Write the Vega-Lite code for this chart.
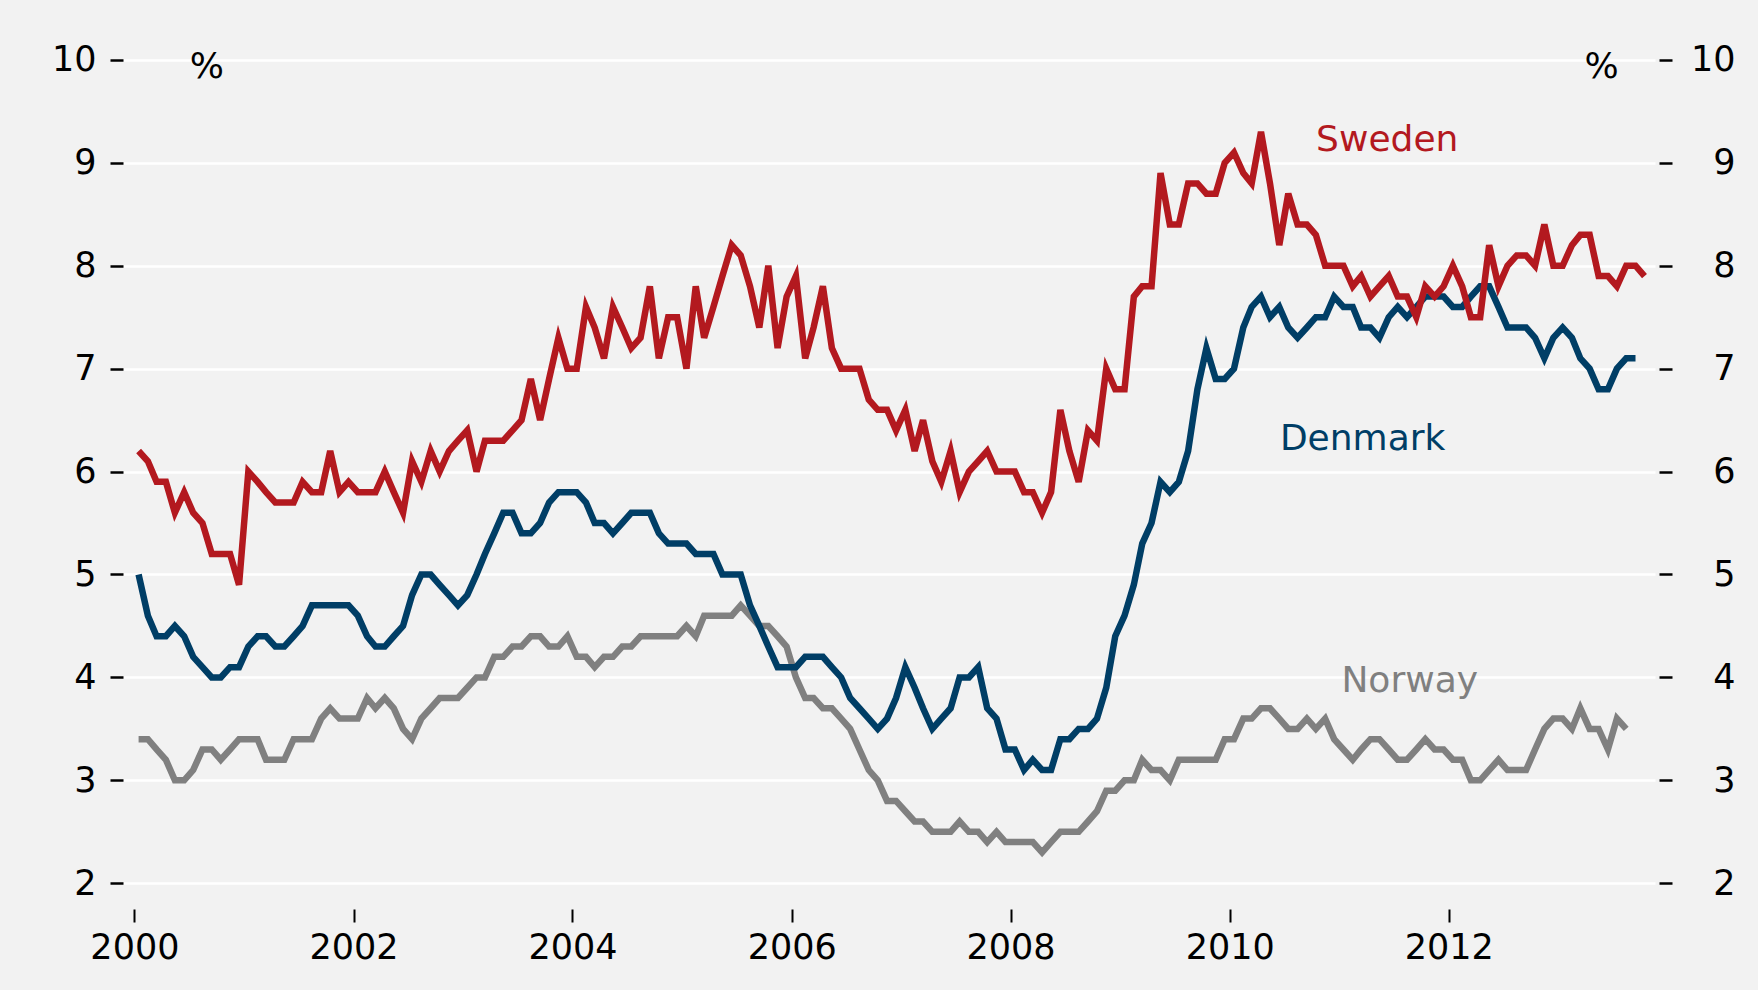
{
  "$schema": "https://vega.github.io/schema/vega-lite/v6.json",
  "width": 1532,
  "height": 880,
  "autosize": {"type": "none"},
  "padding": {"left": 123, "top": 29, "right": 103, "bottom": 81},
  "background": "#f2f2f2",
  "config": {
    "view": {"stroke": null},
    "font": "DejaVu Sans",
    "axis": {"labelFont": "DejaVu Sans", "labelColor": "#000000", "labelFontSize": 35, "labelFontWeight": "normal"}
  },
  "datasets": {
    "rates": [
      {"d":"2000-01-15","Sweden":6.2,"Denmark":5.0,"Norway":3.4},
      {"d":"2000-02-15","Sweden":6.1,"Denmark":4.6,"Norway":3.4},
      {"d":"2000-03-15","Sweden":5.9,"Denmark":4.4,"Norway":3.3},
      {"d":"2000-04-15","Sweden":5.9,"Denmark":4.4,"Norway":3.2},
      {"d":"2000-05-15","Sweden":5.6,"Denmark":4.5,"Norway":3.0},
      {"d":"2000-06-15","Sweden":5.8,"Denmark":4.4,"Norway":3.0},
      {"d":"2000-07-15","Sweden":5.6,"Denmark":4.2,"Norway":3.1},
      {"d":"2000-08-15","Sweden":5.5,"Denmark":4.1,"Norway":3.3},
      {"d":"2000-09-15","Sweden":5.2,"Denmark":4.0,"Norway":3.3},
      {"d":"2000-10-15","Sweden":5.2,"Denmark":4.0,"Norway":3.2},
      {"d":"2000-11-15","Sweden":5.2,"Denmark":4.1,"Norway":3.3},
      {"d":"2000-12-15","Sweden":4.9,"Denmark":4.1,"Norway":3.4},
      {"d":"2001-01-15","Sweden":6.0,"Denmark":4.3,"Norway":3.4},
      {"d":"2001-02-15","Sweden":5.9,"Denmark":4.4,"Norway":3.4},
      {"d":"2001-03-15","Sweden":5.8,"Denmark":4.4,"Norway":3.2},
      {"d":"2001-04-15","Sweden":5.7,"Denmark":4.3,"Norway":3.2},
      {"d":"2001-05-15","Sweden":5.7,"Denmark":4.3,"Norway":3.2},
      {"d":"2001-06-15","Sweden":5.7,"Denmark":4.4,"Norway":3.4},
      {"d":"2001-07-15","Sweden":5.9,"Denmark":4.5,"Norway":3.4},
      {"d":"2001-08-15","Sweden":5.8,"Denmark":4.7,"Norway":3.4},
      {"d":"2001-09-15","Sweden":5.8,"Denmark":4.7,"Norway":3.6},
      {"d":"2001-10-15","Sweden":6.2,"Denmark":4.7,"Norway":3.7},
      {"d":"2001-11-15","Sweden":5.8,"Denmark":4.7,"Norway":3.6},
      {"d":"2001-12-15","Sweden":5.9,"Denmark":4.7,"Norway":3.6},
      {"d":"2002-01-15","Sweden":5.8,"Denmark":4.6,"Norway":3.6},
      {"d":"2002-02-15","Sweden":5.8,"Denmark":4.4,"Norway":3.8},
      {"d":"2002-03-15","Sweden":5.8,"Denmark":4.3,"Norway":3.7},
      {"d":"2002-04-15","Sweden":6.0,"Denmark":4.3,"Norway":3.8},
      {"d":"2002-05-15","Sweden":5.8,"Denmark":4.4,"Norway":3.7},
      {"d":"2002-06-15","Sweden":5.6,"Denmark":4.5,"Norway":3.5},
      {"d":"2002-07-15","Sweden":6.1,"Denmark":4.8,"Norway":3.4},
      {"d":"2002-08-15","Sweden":5.9,"Denmark":5.0,"Norway":3.6},
      {"d":"2002-09-15","Sweden":6.2,"Denmark":5.0,"Norway":3.7},
      {"d":"2002-10-15","Sweden":6.0,"Denmark":4.9,"Norway":3.8},
      {"d":"2002-11-15","Sweden":6.2,"Denmark":4.8,"Norway":3.8},
      {"d":"2002-12-15","Sweden":6.3,"Denmark":4.7,"Norway":3.8},
      {"d":"2003-01-15","Sweden":6.4,"Denmark":4.8,"Norway":3.9},
      {"d":"2003-02-15","Sweden":6.0,"Denmark":5.0,"Norway":4.0},
      {"d":"2003-03-15","Sweden":6.3,"Denmark":5.2,"Norway":4.0},
      {"d":"2003-04-15","Sweden":6.3,"Denmark":5.4,"Norway":4.2},
      {"d":"2003-05-15","Sweden":6.3,"Denmark":5.6,"Norway":4.2},
      {"d":"2003-06-15","Sweden":6.4,"Denmark":5.6,"Norway":4.3},
      {"d":"2003-07-15","Sweden":6.5,"Denmark":5.4,"Norway":4.3},
      {"d":"2003-08-15","Sweden":6.9,"Denmark":5.4,"Norway":4.4},
      {"d":"2003-09-15","Sweden":6.5,"Denmark":5.5,"Norway":4.4},
      {"d":"2003-10-15","Sweden":6.9,"Denmark":5.7,"Norway":4.3},
      {"d":"2003-11-15","Sweden":7.3,"Denmark":5.8,"Norway":4.3},
      {"d":"2003-12-15","Sweden":7.0,"Denmark":5.8,"Norway":4.4},
      {"d":"2004-01-15","Sweden":7.0,"Denmark":5.8,"Norway":4.2},
      {"d":"2004-02-15","Sweden":7.6,"Denmark":5.7,"Norway":4.2},
      {"d":"2004-03-15","Sweden":7.4,"Denmark":5.5,"Norway":4.1},
      {"d":"2004-04-15","Sweden":7.1,"Denmark":5.5,"Norway":4.2},
      {"d":"2004-05-15","Sweden":7.6,"Denmark":5.4,"Norway":4.2},
      {"d":"2004-06-15","Sweden":7.4,"Denmark":5.5,"Norway":4.3},
      {"d":"2004-07-15","Sweden":7.2,"Denmark":5.6,"Norway":4.3},
      {"d":"2004-08-15","Sweden":7.3,"Denmark":5.6,"Norway":4.4},
      {"d":"2004-09-15","Sweden":7.8,"Denmark":5.6,"Norway":4.4},
      {"d":"2004-10-15","Sweden":7.1,"Denmark":5.4,"Norway":4.4},
      {"d":"2004-11-15","Sweden":7.5,"Denmark":5.3,"Norway":4.4},
      {"d":"2004-12-15","Sweden":7.5,"Denmark":5.3,"Norway":4.4},
      {"d":"2005-01-15","Sweden":7.0,"Denmark":5.3,"Norway":4.5},
      {"d":"2005-02-15","Sweden":7.8,"Denmark":5.2,"Norway":4.4},
      {"d":"2005-03-15","Sweden":7.3,"Denmark":5.2,"Norway":4.6},
      {"d":"2005-04-15","Sweden":7.6,"Denmark":5.2,"Norway":4.6},
      {"d":"2005-05-15","Sweden":7.9,"Denmark":5.0,"Norway":4.6},
      {"d":"2005-06-15","Sweden":8.2,"Denmark":5.0,"Norway":4.6},
      {"d":"2005-07-15","Sweden":8.1,"Denmark":5.0,"Norway":4.7},
      {"d":"2005-08-15","Sweden":7.8,"Denmark":4.7,"Norway":4.6},
      {"d":"2005-09-15","Sweden":7.4,"Denmark":4.5,"Norway":4.5},
      {"d":"2005-10-15","Sweden":8.0,"Denmark":4.3,"Norway":4.5},
      {"d":"2005-11-15","Sweden":7.2,"Denmark":4.1,"Norway":4.4},
      {"d":"2005-12-15","Sweden":7.7,"Denmark":4.1,"Norway":4.3},
      {"d":"2006-01-15","Sweden":7.9,"Denmark":4.1,"Norway":4.0},
      {"d":"2006-02-15","Sweden":7.1,"Denmark":4.2,"Norway":3.8},
      {"d":"2006-03-15","Sweden":7.4,"Denmark":4.2,"Norway":3.8},
      {"d":"2006-04-15","Sweden":7.8,"Denmark":4.2,"Norway":3.7},
      {"d":"2006-05-15","Sweden":7.2,"Denmark":4.1,"Norway":3.7},
      {"d":"2006-06-15","Sweden":7.0,"Denmark":4.0,"Norway":3.6},
      {"d":"2006-07-15","Sweden":7.0,"Denmark":3.8,"Norway":3.5},
      {"d":"2006-08-15","Sweden":7.0,"Denmark":3.7,"Norway":3.3},
      {"d":"2006-09-15","Sweden":6.7,"Denmark":3.6,"Norway":3.1},
      {"d":"2006-10-15","Sweden":6.6,"Denmark":3.5,"Norway":3.0},
      {"d":"2006-11-15","Sweden":6.6,"Denmark":3.6,"Norway":2.8},
      {"d":"2006-12-15","Sweden":6.4,"Denmark":3.8,"Norway":2.8},
      {"d":"2007-01-15","Sweden":6.6,"Denmark":4.1,"Norway":2.7},
      {"d":"2007-02-15","Sweden":6.2,"Denmark":3.9,"Norway":2.6},
      {"d":"2007-03-15","Sweden":6.5,"Denmark":3.7,"Norway":2.6},
      {"d":"2007-04-15","Sweden":6.1,"Denmark":3.5,"Norway":2.5},
      {"d":"2007-05-15","Sweden":5.9,"Denmark":3.6,"Norway":2.5},
      {"d":"2007-06-15","Sweden":6.2,"Denmark":3.7,"Norway":2.5},
      {"d":"2007-07-15","Sweden":5.8,"Denmark":4.0,"Norway":2.6},
      {"d":"2007-08-15","Sweden":6.0,"Denmark":4.0,"Norway":2.5},
      {"d":"2007-09-15","Sweden":6.1,"Denmark":4.1,"Norway":2.5},
      {"d":"2007-10-15","Sweden":6.2,"Denmark":3.7,"Norway":2.4},
      {"d":"2007-11-15","Sweden":6.0,"Denmark":3.6,"Norway":2.5},
      {"d":"2007-12-15","Sweden":6.0,"Denmark":3.3,"Norway":2.4},
      {"d":"2008-01-15","Sweden":6.0,"Denmark":3.3,"Norway":2.4},
      {"d":"2008-02-15","Sweden":5.8,"Denmark":3.1,"Norway":2.4},
      {"d":"2008-03-15","Sweden":5.8,"Denmark":3.2,"Norway":2.4},
      {"d":"2008-04-15","Sweden":5.6,"Denmark":3.1,"Norway":2.3},
      {"d":"2008-05-15","Sweden":5.8,"Denmark":3.1,"Norway":2.4},
      {"d":"2008-06-15","Sweden":6.6,"Denmark":3.4,"Norway":2.5},
      {"d":"2008-07-15","Sweden":6.2,"Denmark":3.4,"Norway":2.5},
      {"d":"2008-08-15","Sweden":5.9,"Denmark":3.5,"Norway":2.5},
      {"d":"2008-09-15","Sweden":6.4,"Denmark":3.5,"Norway":2.6},
      {"d":"2008-10-15","Sweden":6.3,"Denmark":3.6,"Norway":2.7},
      {"d":"2008-11-15","Sweden":7.0,"Denmark":3.9,"Norway":2.9},
      {"d":"2008-12-15","Sweden":6.8,"Denmark":4.4,"Norway":2.9},
      {"d":"2009-01-15","Sweden":6.8,"Denmark":4.6,"Norway":3.0},
      {"d":"2009-02-15","Sweden":7.7,"Denmark":4.9,"Norway":3.0},
      {"d":"2009-03-15","Sweden":7.8,"Denmark":5.3,"Norway":3.2},
      {"d":"2009-04-15","Sweden":7.8,"Denmark":5.5,"Norway":3.1},
      {"d":"2009-05-15","Sweden":8.9,"Denmark":5.9,"Norway":3.1},
      {"d":"2009-06-15","Sweden":8.4,"Denmark":5.8,"Norway":3.0},
      {"d":"2009-07-15","Sweden":8.4,"Denmark":5.9,"Norway":3.2},
      {"d":"2009-08-15","Sweden":8.8,"Denmark":6.2,"Norway":3.2},
      {"d":"2009-09-15","Sweden":8.8,"Denmark":6.8,"Norway":3.2},
      {"d":"2009-10-15","Sweden":8.7,"Denmark":7.2,"Norway":3.2},
      {"d":"2009-11-15","Sweden":8.7,"Denmark":6.9,"Norway":3.2},
      {"d":"2009-12-15","Sweden":9.0,"Denmark":6.9,"Norway":3.4},
      {"d":"2010-01-15","Sweden":9.1,"Denmark":7.0,"Norway":3.4},
      {"d":"2010-02-15","Sweden":8.9,"Denmark":7.4,"Norway":3.6},
      {"d":"2010-03-15","Sweden":8.8,"Denmark":7.6,"Norway":3.6},
      {"d":"2010-04-15","Sweden":9.3,"Denmark":7.7,"Norway":3.7},
      {"d":"2010-05-15","Sweden":8.8,"Denmark":7.5,"Norway":3.7},
      {"d":"2010-06-15","Sweden":8.2,"Denmark":7.6,"Norway":3.6},
      {"d":"2010-07-15","Sweden":8.7,"Denmark":7.4,"Norway":3.5},
      {"d":"2010-08-15","Sweden":8.4,"Denmark":7.3,"Norway":3.5},
      {"d":"2010-09-15","Sweden":8.4,"Denmark":7.4,"Norway":3.6},
      {"d":"2010-10-15","Sweden":8.3,"Denmark":7.5,"Norway":3.5},
      {"d":"2010-11-15","Sweden":8.0,"Denmark":7.5,"Norway":3.6},
      {"d":"2010-12-15","Sweden":8.0,"Denmark":7.7,"Norway":3.4},
      {"d":"2011-01-15","Sweden":8.0,"Denmark":7.6,"Norway":3.3},
      {"d":"2011-02-15","Sweden":7.8,"Denmark":7.6,"Norway":3.2},
      {"d":"2011-03-15","Sweden":7.9,"Denmark":7.4,"Norway":3.3},
      {"d":"2011-04-15","Sweden":7.7,"Denmark":7.4,"Norway":3.4},
      {"d":"2011-05-15","Sweden":7.8,"Denmark":7.3,"Norway":3.4},
      {"d":"2011-06-15","Sweden":7.9,"Denmark":7.5,"Norway":3.3},
      {"d":"2011-07-15","Sweden":7.7,"Denmark":7.6,"Norway":3.2},
      {"d":"2011-08-15","Sweden":7.7,"Denmark":7.5,"Norway":3.2},
      {"d":"2011-09-15","Sweden":7.5,"Denmark":7.6,"Norway":3.3},
      {"d":"2011-10-15","Sweden":7.8,"Denmark":7.7,"Norway":3.4},
      {"d":"2011-11-15","Sweden":7.7,"Denmark":7.7,"Norway":3.3},
      {"d":"2011-12-15","Sweden":7.8,"Denmark":7.7,"Norway":3.3},
      {"d":"2012-01-15","Sweden":8.0,"Denmark":7.6,"Norway":3.2},
      {"d":"2012-02-15","Sweden":7.8,"Denmark":7.6,"Norway":3.2},
      {"d":"2012-03-15","Sweden":7.5,"Denmark":7.7,"Norway":3.0},
      {"d":"2012-04-15","Sweden":7.5,"Denmark":7.8,"Norway":3.0},
      {"d":"2012-05-15","Sweden":8.2,"Denmark":7.8,"Norway":3.1},
      {"d":"2012-06-15","Sweden":7.8,"Denmark":7.6,"Norway":3.2},
      {"d":"2012-07-15","Sweden":8.0,"Denmark":7.4,"Norway":3.1},
      {"d":"2012-08-15","Sweden":8.1,"Denmark":7.4,"Norway":3.1},
      {"d":"2012-09-15","Sweden":8.1,"Denmark":7.4,"Norway":3.1},
      {"d":"2012-10-15","Sweden":8.0,"Denmark":7.3,"Norway":3.3},
      {"d":"2012-11-15","Sweden":8.4,"Denmark":7.1,"Norway":3.5},
      {"d":"2012-12-15","Sweden":8.0,"Denmark":7.3,"Norway":3.6},
      {"d":"2013-01-15","Sweden":8.0,"Denmark":7.4,"Norway":3.6},
      {"d":"2013-02-15","Sweden":8.2,"Denmark":7.3,"Norway":3.5},
      {"d":"2013-03-15","Sweden":8.3,"Denmark":7.1,"Norway":3.7},
      {"d":"2013-04-15","Sweden":8.3,"Denmark":7.0,"Norway":3.5},
      {"d":"2013-05-15","Sweden":7.9,"Denmark":6.8,"Norway":3.5},
      {"d":"2013-06-15","Sweden":7.9,"Denmark":6.8,"Norway":3.3},
      {"d":"2013-07-15","Sweden":7.8,"Denmark":7.0,"Norway":3.6},
      {"d":"2013-08-15","Sweden":8.0,"Denmark":7.1,"Norway":3.5},
      {"d":"2013-09-15","Sweden":8.0,"Denmark":7.1,"Norway":null},
      {"d":"2013-10-15","Sweden":7.9,"Denmark":null,"Norway":null}
    ],
    "labels": [
      {"d":"2011-06-10","value":9.22,"label":"Sweden","series":"Sweden"},
      {"d":"2011-03-20","value":6.32,"label":"Denmark","series":"Denmark"},
      {"d":"2011-08-24","value":3.97,"label":"Norway","series":"Norway"},
      {"d":"2000-08-30","value":9.93,"label":"%","series":"axis"},
      {"d":"2013-05-25","value":9.93,"label":"%","series":"axis"}
    ]
  },
  "resolve": {"scale": {"y": "independent"}, "axis": {"y": "independent"}},
  "layer": [
    {
      "data": {"name": "rates"},
      "transform": [
        {"fold": ["Norway", "Denmark", "Sweden"], "as": ["country", "value"]},
        {"filter": "isValid(datum.value)"}
      ],
      "mark": {"type": "line", "strokeWidth": 6.5, "strokeJoin": "miter", "clip": true},
      "encoding": {
        "x": {
          "field": "d", "type": "temporal",
          "scale": {"type": "utc", "domain": [{"year": 1999, "month": 11, "date": 24, "utc": true}, {"year": 2013, "month": 11, "date": 19, "utc": true}]},
          "axis": {
            "title": null, "domain": false, "grid": false,
            "values": [{"year": 2000, "utc": true}, {"year": 2002, "utc": true}, {"year": 2004, "utc": true}, {"year": 2006, "utc": true}, {"year": 2008, "utc": true}, {"year": 2010, "utc": true}, {"year": 2012, "utc": true}],
            "format": "%Y", "formatType": "utc",
            "tickSize": 13, "tickWidth": 2, "tickColor": "#000000",
            "labelPadding": 8
          }
        },
        "y": {
          "field": "value", "type": "quantitative",
          "scale": {"domain": [1.75, 10.3], "zero": false, "nice": false},
          "axis": {
            "title": null, "orient": "left", "domain": false,
            "values": [2, 3, 4, 5, 6, 7, 8, 9, 10],
            "grid": true, "gridColor": "#ffffff", "gridWidth": 2.5,
            "tickSize": 13, "tickWidth": 2.5, "tickColor": "#000000",
            "labelPadding": 14
          }
        },
        "color": {
          "field": "country", "type": "nominal",
          "scale": {"domain": ["Sweden", "Denmark", "Norway", "axis"], "range": ["#b3191f", "#003e66", "#808080", "#000000"]},
          "legend": null
        }
      }
    },
    {
      "data": {"name": "labels"},
      "mark": {"type": "text", "fontSize": 36, "align": "center", "baseline": "middle", "font": "DejaVu Sans"},
      "encoding": {
        "x": {"field": "d", "type": "temporal"},
        "y": {
          "field": "value", "type": "quantitative",
          "scale": {"domain": [1.75, 10.3], "zero": false, "nice": false},
          "axis": {
            "title": null, "orient": "right", "domain": false, "grid": false,
            "values": [2, 3, 4, 5, 6, 7, 8, 9, 10],
            "offset": 4,
            "tickSize": 13, "tickWidth": 2.5, "tickColor": "#000000",
            "labelAlign": "right", "labelPadding": 63
          }
        },
        "text": {"field": "label"},
        "color": {"field": "series", "type": "nominal", "legend": null}
      }
    }
  ]
}
